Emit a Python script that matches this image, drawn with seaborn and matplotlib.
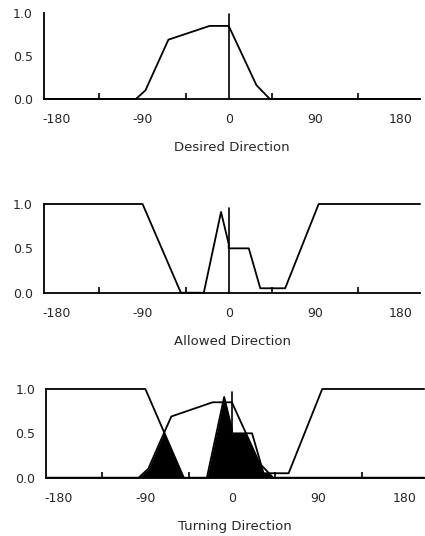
import numpy as np
import pandas as pd
import matplotlib
matplotlib.use("Agg")
import matplotlib.pyplot as plt
import seaborn as sns

# ---- data ----
desired_x = [-193, -97, -87, -63, -20, 0, 29, 43, 200]
desired_y = [0.0, 0.0, 0.10, 0.69, 0.85, 0.85, 0.16, 0.0, 0.0]

allowed_x = [-193, -90, -50, -26, -8, 0, 0, 21, 33, 59, 94, 200]
allowed_y = [1.0, 1.0, 0.0, 0.0, 0.91, 0.55, 0.50, 0.50, 0.05, 0.05, 1.0, 1.0]

heading_x = 0
heading_top = [0.99, 0.95, 0.97]

xtick_labels = [-180, -90, 0, 90, 180]
minor_ticks = [-135, -90, -45, 0, 45, 90, 135]
ytick_labels = [0.0, 0.5, 1.0]
titles = ["Desired Direction", "Allowed Direction", "Turning Direction"]

sns.set_style("white")
plt.rcParams["font.family"] = ["DejaVu Sans"]
plt.rcParams["axes.unicode_minus"] = False

fig = plt.figure(figsize=(4.25, 5.36), dpi=100)
positions = [
    [0.1035, 0.8153, 0.885, 0.1604],
    [0.1035, 0.4539, 0.885, 0.1655],
    [0.1090, 0.1088, 0.889, 0.1655],
]

df_des = pd.DataFrame({"x": desired_x, "y": desired_y})
df_all = pd.DataFrame({"x": allowed_x, "y": allowed_y})

for i, pos in enumerate(positions):
    ax = fig.add_axes(pos)
    if i in (0, 2):
        sns.lineplot(data=df_des, x="x", y="y", sort=False, estimator=None,
                     color="black", lw=1.3, ax=ax, clip_on=False)
    if i in (1, 2):
        sns.lineplot(data=df_all, x="x", y="y", sort=False, estimator=None,
                     color="black", lw=1.3, ax=ax, clip_on=False)
    if i == 2:
        grid = np.linspace(-193, 200, 8000)
        d = np.interp(grid, desired_x, desired_y)
        a = np.interp(grid, allowed_x, allowed_y)
        ax.fill_between(grid, 0, np.minimum(d, a), color="black", lw=0)
    ax.plot([heading_x, heading_x], [0, heading_top[i]], color="black", lw=1.2,
            clip_on=False)

    ax.set_xlim(-193, 200)
    ax.set_ylim(0, 1.0)
    ax.set_xticks(xtick_labels)
    ax.set_xticklabels([str(v) for v in xtick_labels])
    ax.set_xticks(minor_ticks, minor=True)
    ax.set_yticks(ytick_labels)
    ax.set_yticklabels([f"{v:.1f}" for v in ytick_labels])
    ax.tick_params(axis="x", which="major", length=0, pad=10, labelsize=9)
    ax.tick_params(axis="x", which="minor", direction="in", length=4, width=1.2,
                   color="black", bottom=True)
    ax.tick_params(axis="y", length=0, pad=8, labelsize=9)
    for s in ("top", "right"):
        ax.spines[s].set_visible(False)
    for s in ("left", "bottom"):
        ax.spines[s].set_color("black")
        ax.spines[s].set_linewidth(1.3)
    ax.set_xlabel(titles[i], fontsize=9.5, labelpad=11)
    ax.set_ylabel("")
    ax.set_facecolor("white")

fig.savefig("out.png", dpi=100, facecolor="white")
